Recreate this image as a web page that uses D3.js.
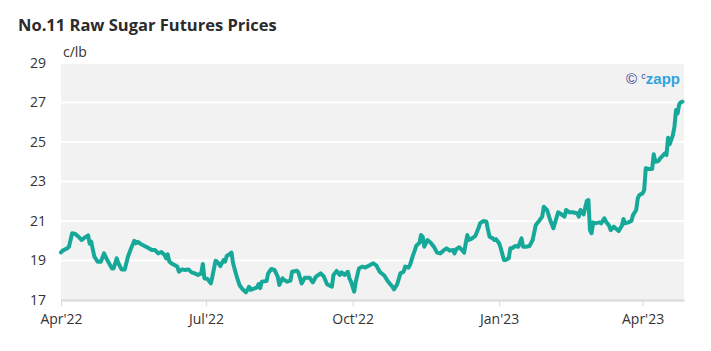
<!DOCTYPE html>
<html>
<head>
<meta charset="utf-8">
<script src="https://cdn.jsdelivr.net/npm/d3@7"></script>
<style>
  body { margin: 0; background: #fff; font-family: 'Open Sans', sans-serif; }
  .title { font-weight: 700; font-size: 16.5px; fill: #2b2b2b; }
  .axis text { font-size: 14px; fill: #333; font-family: 'Open Sans', sans-serif; }
  .axis path, .axis line { stroke: #d9d9d9; }
  .unit { font-size: 14px; fill: #333; }
</style>
</head>
<body>
<div id="chart"></div>
<script>
// trading dates and settlement prices (c/lb)
const dates = [
  '2022-04-01','2022-04-02','2022-04-05','2022-04-06','2022-04-08','2022-04-10','2022-04-12','2022-04-14',
  '2022-04-16','2022-04-18','2022-04-19','2022-04-20','2022-04-21','2022-04-22','2022-04-24','2022-04-26',
  '2022-04-28','2022-04-30','2022-05-03','2022-05-04','2022-05-06','2022-05-07','2022-05-09','2022-05-11',
  '2022-05-13','2022-05-15','2022-05-17','2022-05-18','2022-05-19','2022-05-21','2022-05-25','2022-05-28',
  '2022-05-30','2022-06-01','2022-06-03','2022-06-05','2022-06-06','2022-06-07','2022-06-08','2022-06-10',
  '2022-06-12','2022-06-13','2022-06-14','2022-06-16','2022-06-18','2022-06-20','2022-06-22','2022-06-24',
  '2022-06-26','2022-06-28','2022-06-29','2022-06-30','2022-07-02','2022-07-04','2022-07-05','2022-07-07',
  '2022-07-08','2022-07-10','2022-07-12','2022-07-13','2022-07-14','2022-07-16','2022-07-17','2022-07-18',
  '2022-07-20','2022-07-22','2022-07-24','2022-07-26','2022-07-27','2022-07-28','2022-07-29','2022-07-31',
  '2022-08-02','2022-08-03','2022-08-04','2022-08-05','2022-08-08','2022-08-09','2022-08-11','2022-08-13',
  '2022-08-15','2022-08-16','2022-08-18','2022-08-19','2022-08-21','2022-08-23','2022-08-24','2022-08-27',
  '2022-08-28','2022-08-30','2022-09-01','2022-09-04','2022-09-06','2022-09-08','2022-09-11','2022-09-13',
  '2022-09-15','2022-09-18','2022-09-19','2022-09-21','2022-09-23','2022-09-24','2022-09-26','2022-09-28',
  '2022-09-29','2022-09-30','2022-10-02','2022-10-03','2022-10-05','2022-10-07','2022-10-09','2022-10-12',
  '2022-10-14','2022-10-16','2022-10-18','2022-10-21','2022-10-23','2022-10-26','2022-10-27','2022-10-29',
  '2022-10-31','2022-11-02','2022-11-03','2022-11-05','2022-11-06','2022-11-08','2022-11-09','2022-11-10',
  '2022-11-12','2022-11-13','2022-11-14','2022-11-15','2022-11-17','2022-11-19','2022-11-21','2022-11-23',
  '2022-11-25','2022-11-27','2022-11-29','2022-12-01','2022-12-03','2022-12-04','2022-12-05','2022-12-07',
  '2022-12-09','2022-12-10','2022-12-11','2022-12-12','2022-12-13','2022-12-15','2022-12-17','2022-12-19',
  '2022-12-20','2022-12-22','2022-12-24','2022-12-25','2022-12-26','2022-12-28','2022-12-29','2022-12-30',
  '2023-01-01','2023-01-02','2023-01-04','2023-01-05','2023-01-07','2023-01-08','2023-01-09','2023-01-11',
  '2023-01-13','2023-01-15','2023-01-16','2023-01-18','2023-01-20','2023-01-22','2023-01-24','2023-01-26',
  '2023-01-28','2023-01-29','2023-01-30','2023-01-31','2023-02-02','2023-02-04','2023-02-05','2023-02-07',
  '2023-02-09','2023-02-11','2023-02-12','2023-02-14','2023-02-16','2023-02-19','2023-02-20','2023-02-21',
  '2023-02-23','2023-02-25','2023-02-26','2023-02-27','2023-02-28','2023-03-01','2023-03-02','2023-03-05',
  '2023-03-06','2023-03-08','2023-03-09','2023-03-11','2023-03-12','2023-03-14','2023-03-15','2023-03-17',
  '2023-03-19','2023-03-20','2023-03-21','2023-03-23','2023-03-25','2023-03-26','2023-03-28','2023-03-29',
  '2023-03-30','2023-04-01','2023-04-02','2023-04-03','2023-04-05','2023-04-07','2023-04-08','2023-04-09',
  '2023-04-11','2023-04-12','2023-04-14','2023-04-15','2023-04-16','2023-04-17','2023-04-18','2023-04-20',
  '2023-04-21','2023-04-22','2023-04-23','2023-04-24','2023-04-25','2023-04-26'
];
const prices = [
  19.41,19.50,19.62,19.70,20.38,20.34,20.20,20.04,
  20.17,20.27,19.85,19.95,19.53,19.19,18.94,18.94,
  19.36,19.02,18.60,18.60,19.11,18.86,18.55,18.55,
  19.19,19.62,20.00,19.87,19.95,19.84,19.67,19.53,
  19.53,19.36,19.43,19.28,19.10,19.31,18.94,18.82,
  18.74,18.69,18.43,18.55,18.52,18.55,18.40,18.35,
  18.27,18.35,18.82,18.10,18.06,17.84,18.18,18.99,
  18.94,18.72,19.02,18.94,19.23,19.33,19.40,18.86,
  18.27,17.76,17.54,17.39,17.51,17.67,17.51,17.57,
  17.64,17.81,17.60,17.93,17.96,18.35,18.57,18.52,
  18.18,17.76,18.10,18.01,17.93,17.98,18.43,18.48,
  18.40,17.84,18.13,18.13,17.89,18.18,18.35,18.18,
  17.80,17.67,18.27,18.47,18.27,18.40,18.27,18.43,
  18.10,17.93,17.42,17.93,18.60,18.69,18.64,18.77,
  18.86,18.74,18.43,18.23,17.96,17.67,17.54,17.80,
  18.35,18.43,18.69,18.64,18.77,19.28,19.50,19.75,
  19.90,20.29,20.20,19.70,20.04,19.90,19.70,19.40,
  19.36,19.50,19.62,19.50,19.53,19.36,19.57,19.67,
  19.50,19.40,19.87,20.29,20.04,20.12,20.24,20.63,
  20.88,21.00,20.96,20.54,20.20,20.12,20.04,20.08,
  19.87,19.62,19.02,19.02,19.11,19.62,19.62,19.73,
  19.70,20.12,19.70,19.70,19.73,20.04,20.80,21.00,
  21.22,21.72,21.64,21.56,21.05,20.63,20.90,21.44,
  21.34,21.22,21.56,21.44,21.44,21.39,21.22,21.56,
  21.34,22.01,22.06,20.54,20.38,20.93,20.88,20.93,
  20.88,21.14,20.97,20.76,20.54,20.71,20.63,20.49,
  20.76,21.10,20.88,20.93,21.00,21.30,21.56,22.15,
  22.32,22.40,22.57,23.67,23.63,23.63,24.38,24.00,
  24.04,24.17,24.34,24.43,24.34,25.22,24.88,25.35,
  25.77,26.62,26.45,26.91,27.01,27.04
];
const yTicks = [17, 19, 21, 23, 25, 27, 29];
const xTicks = ['2022-04-01', '2022-07-01', '2022-10-01', '2023-01-01', '2023-04-01'];
const xDomain = ['2022-04-01', '2023-04-27'];

class PriceChart {
  constructor(_config) {
    this.config = {
      parentElement: _config.parentElement,
      containerWidth: 711,
      containerHeight: 351,
      margin: { top: 63, left: 61, right: 27, bottom: 51 },
    };
    const parse = d3.timeParse('%Y-%m-%d');
    this.parse = parse;
    this.data = dates.map((d, i) => ({ date: parse(d), value: prices[i] }));
    this.initVis();
  }

  initVis() {
    let vis = this;
    vis.width = vis.config.containerWidth - vis.config.margin.left - vis.config.margin.right;
    vis.height = vis.config.containerHeight - vis.config.margin.top - vis.config.margin.bottom;

    vis.svg = d3.select(vis.config.parentElement)
      .append('svg')
      .attr('width', vis.config.containerWidth)
      .attr('height', vis.config.containerHeight);

    vis.svg.append('text')
      .attr('class', 'title')
      .attr('x', 18)
      .attr('y', 31)
      .text('No.11 Raw Sugar Futures Prices');

    vis.chart = vis.svg.append('g')
      .attr('transform', `translate(${vis.config.margin.left},${vis.config.margin.top})`);

    vis.xScale = d3.scaleTime()
      .domain(xDomain.map(vis.parse))
      .range([0, vis.width]);
    vis.yScale = d3.scaleLinear()
      .domain([17, 29])
      .range([vis.height, 0]);

    // grey plot background
    vis.chart.append('rect')
      .attr('width', vis.width)
      .attr('height', vis.height)
      .attr('fill', '#f2f2f2');

    // white gridlines
    vis.chart.selectAll('.grid')
      .data(yTicks.slice(1))
      .join('line')
      .attr('class', 'grid')
      .attr('x1', 0)
      .attr('x2', vis.width)
      .attr('y1', d => vis.yScale(d))
      .attr('y2', d => vis.yScale(d))
      .attr('stroke', '#fff')
      .attr('stroke-width', 2);

    vis.xAxis = d3.axisBottom(vis.xScale)
      .tickValues(xTicks.map(vis.parse))
      .tickFormat(d3.timeFormat("%b'%y"))
      .tickSize(6)
      .tickSizeOuter(0)
      .tickPadding(8);

    vis.yAxis = d3.axisLeft(vis.yScale)
      .tickValues(yTicks)
      .tickSize(0)
      .tickPadding(15);

    vis.xAxisG = vis.chart.append('g')
      .attr('class', 'axis x-axis')
      .attr('transform', `translate(0,${vis.height})`)
      .call(vis.xAxis);
    vis.xAxisG.select('.domain').attr('stroke', '#d9d9d9').attr('stroke-width', 2);

    vis.yAxisG = vis.chart.append('g')
      .attr('class', 'axis y-axis')
      .call(vis.yAxis);
    vis.yAxisG.select('.domain').remove();

    vis.chart.append('text')
      .attr('class', 'unit')
      .attr('x', 2)
      .attr('y', -6)
      .text('c/lb');

    // watermark
    const mark = vis.chart.append('text')
      .attr('x', vis.width - 4)
      .attr('y', 21)
      .attr('text-anchor', 'end')
      .style('font-family', 'Arial, sans-serif');
    mark.append('tspan').attr('fill', '#3a3f94').style('font-size', '15px').text('© ');
    mark.append('tspan').attr('fill', '#3a3f94').style('font-size', '9px').attr('dy', -5).text('c');
    mark.append('tspan').attr('fill', '#2ea3df').style('font-size', '15px').style('font-weight', 600).attr('dy', 5).text('zapp');

    vis.renderVis();
  }

  renderVis() {
    let vis = this;
    const line = d3.line()
      .x(d => vis.xScale(d.date))
      .y(d => vis.yScale(d.value));

    vis.chart.append('path')
      .datum(vis.data)
      .attr('d', line)
      .attr('fill', 'none')
      .attr('stroke', '#16a898')
      .attr('stroke-width', 4)
      .attr('stroke-linejoin', 'round')
      .attr('stroke-linecap', 'round');
  }
}

new PriceChart({ parentElement: '#chart' });
</script>
</body>
</html>
